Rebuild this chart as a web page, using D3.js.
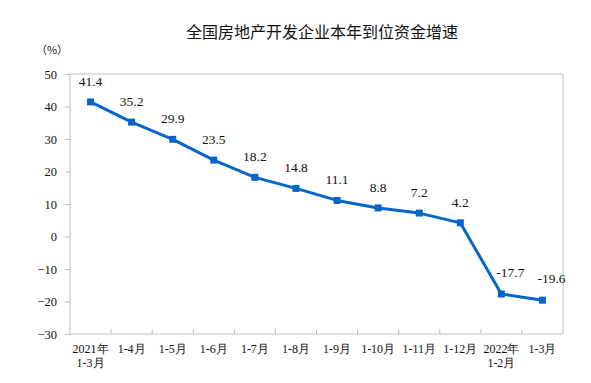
<!DOCTYPE html>
<html><head><meta charset="utf-8">
<script src="https://cdn.jsdelivr.net/npm/d3@7/dist/d3.min.js"></script>
<style>body{margin:0;background:#fff}</style>
</head><body>
<svg id="c" width="591" height="383"></svg>
<script>
const categories = [["2021年","1-3月"],["1-4月"],["1-5月"],["1-6月"],["1-7月"],["1-8月"],["1-9月"],["1-10月"],["1-11月"],["1-12月"],["2022年","1-2月"],["1-3月"]];
const values = [41.4,35.2,29.9,23.5,18.2,14.8,11.1,8.8,7.2,4.2,-17.7,-19.6];
const yTicks = [50,40,30,20,10,0,-10,-20,-30];
const title = "全国房地产开发企业本年到位资金增速";
const unit = "（%）";

const svg = d3.select("#c");
const L=70, R=563, T=74, B=334;
const serif = "'Liberation Serif','Times New Roman',serif";
const x = d3.scaleBand().domain(d3.range(categories.length)).range([L,R]);
const y = d3.scaleLinear().domain([-30,50]).range([B,T]);

svg.append("text").attr("x",322).attr("y",38).attr("text-anchor","middle")
  .attr("font-family","'Noto Sans CJK SC',sans-serif").attr("font-size",16).attr("fill","#111").text(title);
svg.append("text").attr("x",52).attr("y",54).attr("text-anchor","middle")
  .attr("font-family","'Noto Sans CJK SC',sans-serif").attr("font-size",11).attr("fill","#222").text(unit);

// frame
svg.append("rect").attr("x",L).attr("y",T).attr("width",R-L).attr("height",B-T)
  .attr("fill","none").attr("stroke","#bfbfbf").attr("stroke-width",1);

// y axis
const ya = svg.append("g").attr("transform",`translate(${L},0)`)
  .call(d3.axisLeft(y).tickValues(yTicks).tickSize(5).tickSizeOuter(0));
ya.select(".domain").remove();
ya.selectAll("line").attr("stroke","#bfbfbf");
ya.selectAll("text").attr("font-family",serif).attr("font-size",12.5).attr("fill","#111").attr("dx",-5);

// x ticks at band boundaries
const bounds = d3.range(1,categories.length).map(i=>x(i));
svg.append("g").selectAll("line").data(bounds).join("line")
  .attr("x1",d=>d).attr("x2",d=>d).attr("y1",B).attr("y2",B-5).attr("stroke","#bfbfbf");
const xl = svg.append("g").selectAll("text").data(categories).join("text")
  .attr("x",(d,i)=>x(i)+x.bandwidth()/2).attr("y",B+19).attr("text-anchor","middle")
  .attr("font-family",serif).attr("font-size",12).attr("fill","#111");
xl.each(function(d){
  const t=d3.select(this);
  d.forEach((s,j)=>t.append("tspan").attr("x",t.attr("x")).attr("dy",j?14:0).text(s));
});

const cx = i=>x(i)+x.bandwidth()/2;
const color="#0866c9";
svg.append("path").datum(values).attr("fill","none").attr("stroke",color).attr("stroke-width",3)
  .attr("stroke-linejoin","round")
  .attr("d",d3.line().x((d,i)=>cx(i)).y(d=>y(d)));
svg.append("g").selectAll("rect").data(values).join("rect")
  .attr("x",(d,i)=>cx(i)-3.5).attr("y",d=>y(d)-3.5).attr("width",7).attr("height",7).attr("fill",color);
svg.append("g").selectAll("text").data(values).join("text")
  .attr("x",(d,i)=>cx(i)+(d<0?9:0)).attr("y",d=>y(d)-(d<0?17:16)).attr("text-anchor","middle")
  .attr("font-family",serif).attr("font-size",13.5).attr("fill","#111").text(d=>d.toFixed(1));
</script>
</body></html>
